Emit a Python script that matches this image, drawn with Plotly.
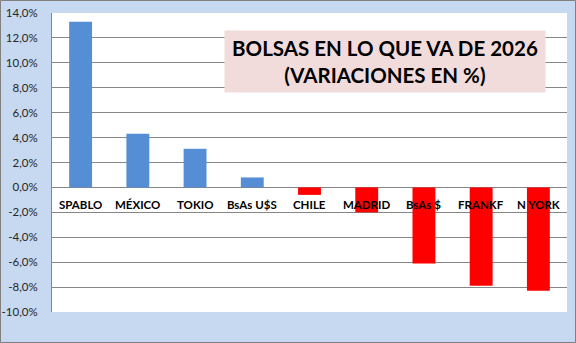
import plotly.graph_objects as go

categories = ["SPABLO", "MÉXICO", "TOKIO", "BsAs U$S", "CHILE", "MADRID", "BsAs $", "FRANKF", "N YORK"]
values = [13.3, 4.3, 3.1, 0.8, -0.6, -2.0, -6.1, -7.9, -8.3]
y_ticks = [-10, -8, -6, -4, -2, 0, 2, 4, 6, 8, 10, 12, 14]
y_tick_text = [f"{v:.1f}".replace(".", ",") + "%" for v in y_ticks]
title_lines = ["BOLSAS EN LO QUE VA DE 2026", "(VARIACIONES EN %)"]

W, H = 576, 343
ml, mr, mt, mb = 52, 9, 13, 31
pw, ph = W - ml - mr, H - mt - mb

colors = ["#558ED5" if v >= 0 else "#FF0000" for v in values]
xs = list(range(len(categories)))

fig = go.Figure()
fig.add_trace(go.Bar(x=xs, y=values, marker=dict(color=colors, line=dict(width=0)), width=0.4))

annotations = []
for x, c in zip(xs, categories):
    annotations.append(dict(x=x, y=0, xref="x", yref="y", text=c, showarrow=False,
                            yanchor="middle", yshift=-17,
                            font=dict(family="Lato", size=11.5, color="#000000", weight="bold")))
annotations.append(dict(x=(385 - ml) / pw, y=(H - mb - 61.3) / ph, xref="paper", yref="paper",
                        text="<br>".join(title_lines), showarrow=False,
                        xanchor="center", yanchor="middle", bgcolor="#F2DCDB",
                        width=318, height=59, align="center",
                        font=dict(family="Lato", size=20.5, color="#000000", weight="bold")))

fig.update_layout(
    width=W, height=H,
    margin=dict(l=ml, r=mr, t=mt, b=mb, autoexpand=False),
    paper_bgcolor="#C6D9F0", plot_bgcolor="#FFFFFF",
    showlegend=False,
    bargap=0.6,
    xaxis=dict(range=[-0.5, len(categories) - 0.5], showticklabels=False, showgrid=False,
               zeroline=False, showline=False, fixedrange=True, automargin=False),
    yaxis=dict(range=[-10, 14], tickvals=y_ticks, ticktext=y_tick_text, automargin=False,
               showgrid=True, gridcolor="#868686", gridwidth=1,
               zeroline=True, zerolinecolor="#868686", zerolinewidth=1,
               showline=True, linecolor="#868686", linewidth=1,
               ticks="", ticklabelstandoff=11,
               tickfont=dict(family="Lato", size=11.5, color="#262626")),
    annotations=annotations,
    shapes=[dict(type="rect", xref="paper", yref="paper",
                 x0=-(ml - 0.5) / pw, x1=1 + (mr - 0.5) / pw,
                 y0=-(mb - 0.5) / ph, y1=1 + (mt - 0.5) / ph,
                 line=dict(color="#808080", width=1), layer="below")],
)

fig.write_html("out.html")
